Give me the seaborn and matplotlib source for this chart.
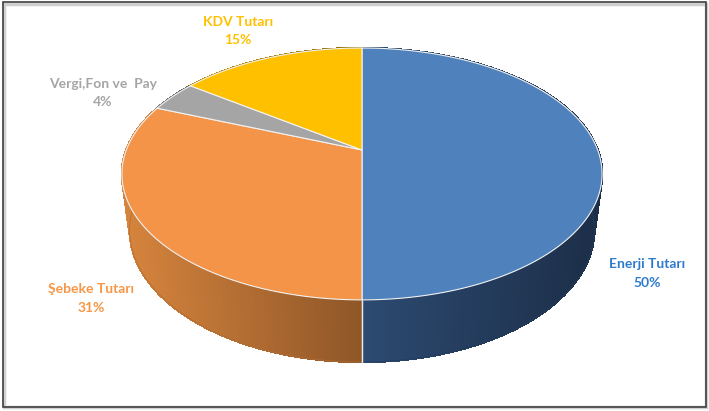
import numpy as np
import matplotlib
matplotlib.use("Agg")
import matplotlib.pyplot as plt
from matplotlib.patches import Rectangle
import seaborn as sns

# slice data (percent of bill), clockwise from 12 o'clock
labels = ["Enerji Tutarı", "Şebeke Tutarı", "Vergi,Fon ve  Pay", "KDV Tutarı"]
shares = [50, 31, 4, 15]
top_colors = ["#4F81BD", "#F39449", "#A5A5A5", "#FFC000"]
side_light = ["#2C4A70", "#D6843D", "#7A7A7A", "#BF9000"]
side_dark = ["#1C2E48", "#8E5628", "#5A5A5A", "#8F6C00"]
label_colors = ["#2E7BCB", "#F79646", "#A5A5A5", "#FFC000"]
label_xy = [(647, 273), (91, 298), (103, 93), (238, 31)]

sns.set_style("white")
plt.rcParams['font.family'] = ['Lato', 'DejaVu Sans']

# perspective set-up for the 3d look
elev = np.radians(31)
dist = 4.51
focal = 1063
thick = 0.283
cx, cy = 362, 150


def project(phi, z):
    x = np.cos(phi)
    y = np.sin(phi)
    Y = y * np.sin(elev) + z * np.cos(elev)
    w = dist + y * np.cos(elev) - z * np.sin(elev)
    return cx + focal * x / w, cy - focal * Y / w


fig = plt.figure(figsize=(7.09, 4.11), dpi=100)
ax = fig.add_axes([0, 0, 1, 1])
ax.set_xlim(0, 709)
ax.set_ylim(411, 0)
ax.axis("off")

fracs = np.array(shares, dtype=float) / sum(shares)
bounds = np.pi / 2 - 2 * np.pi * np.concatenate([[0], np.cumsum(fracs)])

# sides first
for i in range(len(shares)):
    a1, a2 = bounds[i], bounds[i + 1]
    phis = np.linspace(a1, a2, 200)
    xs_top, ys_top = project(phis, 0)
    xs_bot, ys_bot = project(phis, -thick)
    front = np.sin(phis) <= 0.05
    if front.any():
        xmin, xmax = xs_top[front].min(), xs_top[front].max()
    else:
        xmin, xmax = xs_top.min(), xs_top.max()
    c1 = np.array(matplotlib.colors.to_rgb(side_light[i]))
    c2 = np.array(matplotlib.colors.to_rgb(side_dark[i]))
    for k in range(len(phis) - 1):
        xm = 0.5 * (xs_top[k] + xs_top[k + 1])
        t = np.clip((xm - xmin) / max(xmax - xmin, 1), 0, 1)
        col = c1 * (1 - t) + c2 * t
        ax.fill([xs_top[k], xs_top[k + 1], xs_bot[k + 1], xs_bot[k]],
                [ys_top[k], ys_top[k + 1], ys_bot[k + 1], ys_bot[k]],
                color=col, lw=1.0, ec=col, antialiased=False)
    # smooth outline of the whole side so the edges are not jagged
    outline_x = np.concatenate([xs_top, xs_bot[::-1]])
    outline_y = np.concatenate([ys_top, ys_bot[::-1]])
    ax.fill(outline_x, outline_y, fc="none", ec=tuple(c1 * 0.5 + c2 * 0.5), lw=0.5)
    # thin light divider on the side
    for a in (a1, a2):
        if np.sin(a) < 0:
            x0, y0 = project(a, 0)
            x1, y1 = project(a, -thick)
            ax.plot([x0, x1], [y0, y1], color="#E8E8E8", lw=0.9)

# top faces
for i in range(len(shares)):
    phis = np.linspace(bounds[i], bounds[i + 1], 200)
    xs, ys = project(phis, 0)
    ax.fill(np.concatenate([[cx], xs]), np.concatenate([[cy], ys]),
            color=top_colors[i], ec="#F2F2F2", lw=0.8)

# labels
for i in range(len(shares)):
    ax.text(label_xy[i][0], label_xy[i][1], f"{labels[i]}\n{shares[i]}%",
            color=label_colors[i], fontsize=10, fontweight="bold",
            ha="center", va="center", linespacing=1.7)

# frame
ax.add_patch(Rectangle((4, 4), 702, 403, fill=False, ec="#CFCFCF", lw=2.5))
ax.add_patch(Rectangle((2.5, 2.5), 703, 404, fill=False, ec="#3F3F3F", lw=1.2))

fig.savefig("out.png", dpi=100)
